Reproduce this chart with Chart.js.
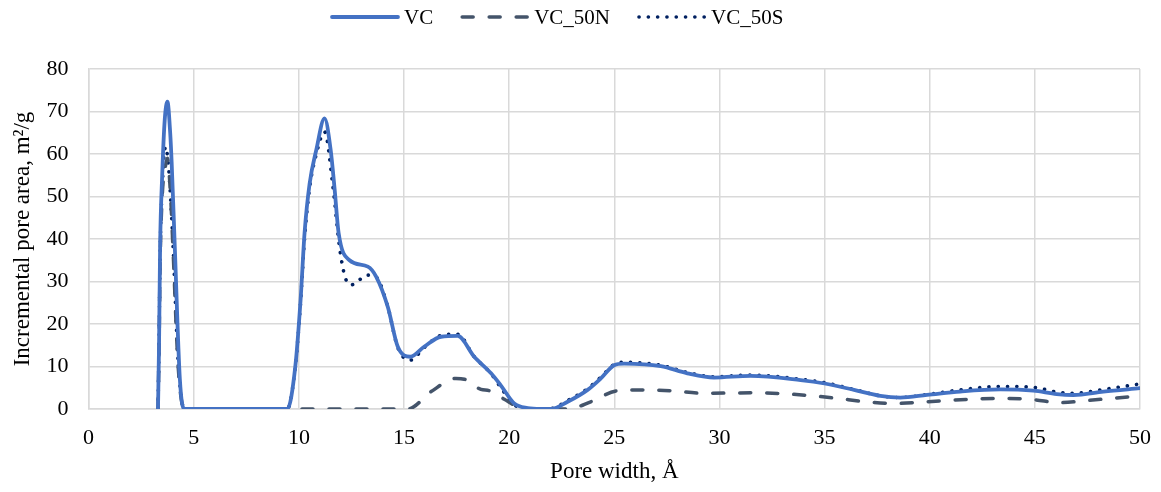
<!DOCTYPE html>
<html>
<head>
<meta charset="utf-8">
<script src="https://cdn.jsdelivr.net/npm/chart.js@4.4.1/dist/chart.umd.min.js"></script>
<style>
    html, body { margin: 0; padding: 0; background: #fff; }
    #wrap { width: 1161px; height: 492px; }
</style>
</head>
<body>
<div id="wrap"><canvas id="poreChart" width="1161" height="492"></canvas></div>
<script>
// Pore widths (Å) and incremental pore area (m²/g)
const vcX = [3.3, 3.35, 3.4, 3.5, 3.62, 3.75, 3.88, 3.95, 4.1, 4.34, 4.55, 6, 8, 9.45, 9.83, 10.08, 10.27, 10.51, 10.83, 11.22, 11.51, 11.7, 11.89, 12.41, 13.28, 13.68, 14.23, 14.7, 15.3, 15.97, 16.76, 17.55, 18.34, 19.14, 19.61, 20.24, 20.88, 21.5, 22.0, 22.78, 23.73, 24.36, 24.99, 25.47, 27.21, 28.47, 29.74, 31.48, 33.86, 35.0, 36.4, 37.65, 38.6, 39.87, 41.45, 43.35, 44.93, 46.04, 46.83, 48.26, 50];
const vcY = [0, 15, 38, 55, 68, 72.3, 65, 58, 38, 7, 0, 0, 0, 0, 10, 25.6, 41.4, 53, 61, 68.4, 61, 51.7, 41.4, 35, 33.5, 31.1, 24, 14.7, 12.3, 14.7, 17, 17.2, 12.3, 8.4, 5.5, 1.3, 0.2, 0, 0, 1.7, 4.5, 7.2, 10.3, 10.7, 10.1, 8.4, 7.4, 7.8, 6.8, 6.0, 4.5, 3.1, 2.7, 3.3, 4.1, 4.6, 4.3, 3.5, 3.3, 4.1, 4.9];

const n50X = [3.3, 3.35, 3.4, 3.5, 3.65, 3.75, 3.9, 4.02, 4.26, 4.55, 8, 12, 15.18, 16.29, 17.47, 17.87, 18.66, 19.06, 19.77, 20.4, 21.0, 22.8, 23.88, 25.15, 26.42, 27.68, 29.25, 31.6, 33.4, 35.44, 37.0, 38.3, 39.87, 41.93, 43.7, 44.93, 46.2, 47.47, 50];
const n50Y = [0, 14, 34, 50, 57, 59, 50, 37, 10, 0, 0, 0, 0, 4.1, 7.2, 7.0, 4.6, 4.3, 2.3, 0.5, 0, 0, 1.7, 4.3, 4.5, 4.3, 3.7, 3.8, 3.5, 2.6, 1.7, 1.3, 1.7, 2.3, 2.5, 2.2, 1.5, 2.0, 3.1];

const s50X = [3.3, 3.35, 3.4, 3.5, 3.66, 3.8, 3.95, 4.02, 4.26, 4.55, 6, 8, 9.45, 9.83, 10.08, 10.27, 10.51, 10.83, 11.22, 11.62, 11.93, 12.2, 12.49, 12.88, 13.25, 13.68, 14.23, 14.7, 15.3, 15.97, 16.76, 17.55, 18.34, 19.14, 19.61, 20.24, 20.88, 21.5, 22.0, 22.78, 23.73, 24.36, 24.99, 25.47, 27.21, 28.47, 29.74, 31.48, 33.86, 35.0, 36.4, 37.65, 38.6, 39.87, 41.45, 43.35, 44.93, 46.04, 46.83, 48.26, 50];
const s50Y = [0, 15, 36, 52, 61.7, 57, 45, 38, 11, 0, 0, 0, 0, 10, 25, 40, 52, 60, 65.2, 52.3, 38.2, 31, 29.2, 30.4, 31.5, 31, 24, 14.5, 11.5, 14.5, 17.3, 17.6, 12.3, 8.3, 5, 1, 0, 0, 0.1, 2, 4.8, 7.5, 10.5, 11, 10.3, 8.6, 7.6, 8.0, 7.0, 6.2, 4.6, 3.1, 2.7, 3.4, 4.5, 5.3, 5.1, 4.0, 3.7, 4.6, 5.9];

const seriesNames = ['VC', 'VC_50N', 'VC_50S'];
const xTicks = [0, 5, 10, 15, 20, 25, 30, 35, 40, 45, 50];
const yTicks = [0, 10, 20, 30, 40, 50, 60, 70, 80];

const serif = "'Liberation Serif', 'Times New Roman', serif";
const gridColor = '#d9d9d9';

function toPoints(xs, ys) {
    return xs.map((x, i) => ({ x: x, y: ys[i] }));
}

// Legend drawn by hand so the dash / dot patterns show up in the samples
const lineLegend = {
    id: 'lineLegend',
    afterDraw(chart) {
        const c = chart.ctx;
        const y = 17;
        let x = 332;
        c.save();
        c.font = '21px ' + serif;
        chart.data.datasets.forEach(ds => {
            c.save();
            c.strokeStyle = ds.borderColor;
            c.lineWidth = ds.borderWidth;
            c.setLineDash(ds.borderDash || []);
            c.lineCap = ds.borderCapStyle || 'butt';
            c.beginPath();
            c.moveTo(x, y);
            c.lineTo(x + 66, y);
            c.stroke();
            c.restore();
            c.fillStyle = '#000';
            c.textBaseline = 'middle';
            c.fillText(ds.label, x + 72, y + 1);
            x += 72 + c.measureText(ds.label).width + 29;
        });
        c.restore();
    }
};

const ctx = document.getElementById('poreChart').getContext('2d');

new Chart(ctx, {
    type: 'line',
    data: {
        datasets: [
            {
                label: seriesNames[0],
                data: toPoints(vcX, vcY),
                borderColor: '#4472C4',
                borderWidth: 3.8,
                borderCapStyle: 'round',
                borderJoinStyle: 'round'
            },
            {
                label: seriesNames[1],
                data: toPoints(n50X, n50Y),
                borderColor: '#44546A',
                borderWidth: 3.5,
                borderDash: [11, 16],
                borderCapStyle: 'round'
            },
            {
                label: seriesNames[2],
                data: toPoints(s50X, s50Y),
                borderColor: '#002060',
                borderWidth: 3.6,
                borderDash: [0.1, 9.2],
                borderCapStyle: 'round'
            }
        ]
    },
    options: {
        responsive: false,
        animation: false,
        elements: {
            point: { radius: 0, hoverRadius: 0 },
            line: { fill: false, tension: 0.4, cubicInterpolationMode: 'monotone' }
        },
        layout: { padding: { left: 9, right: 10, top: 69, bottom: 6 } },
        plugins: {
            tooltip: { enabled: false },
            legend: { display: false }
        },
        scales: {
            x: {
                type: 'linear',
                min: 0,
                max: 50,
                afterBuildTicks: axis => { axis.ticks = xTicks.map(v => ({ value: v })); },
                afterFit: axis => { axis.paddingRight = 21; },
                grid: { color: gridColor, lineWidth: 1.5, drawTicks: false },
                border: { color: gridColor, width: 1.5 },
                ticks: { color: '#000', padding: 16, font: { family: serif, size: 22 } },
                title: {
                    display: true,
                    text: 'Pore width, Å',
                    color: '#000',
                    padding: { top: -9, bottom: 0 },
                    font: { family: serif, size: 23 }
                }
            },
            y: {
                type: 'linear',
                min: 0,
                max: 80,
                afterBuildTicks: axis => { axis.ticks = yTicks.map(v => ({ value: v })); },
                grid: { color: gridColor, lineWidth: 1.5, drawTicks: false },
                border: { color: gridColor, width: 1.5 },
                ticks: { color: '#000', padding: 20, font: { family: serif, size: 22 } },
                title: {
                    display: true,
                    text: 'Incremental pore area, m²/g',
                    color: '#000',
                    padding: { top: 0, bottom: -10 },
                    font: { family: serif, size: 23 }
                }
            }
        }
    },
    plugins: [lineLegend]
});
</script>
</body>
</html>
